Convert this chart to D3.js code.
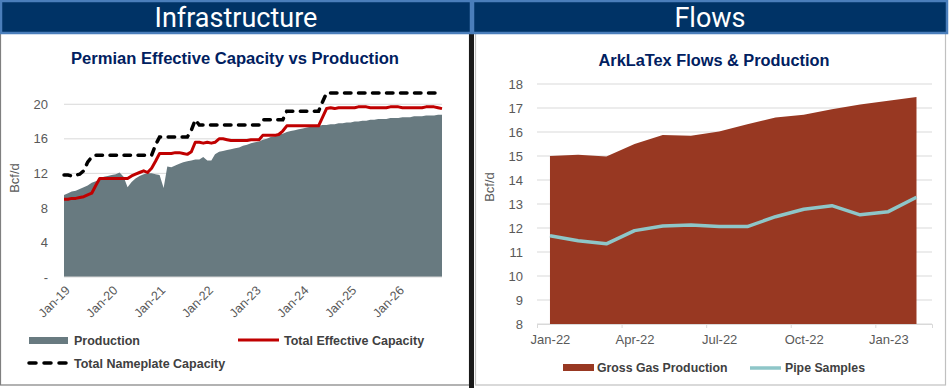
<!DOCTYPE html>
<html>
<head>
<meta charset="UTF-8">
<style>
  body { margin: 0; background: #fff; }
  svg { display: block; font-family: "Liberation Sans", Arial, sans-serif; }
  .tick text { fill: #595959; }
</style>
</head>
<body>
<svg width="949" height="388"></svg>
<script src="https://cdnjs.cloudflare.com/ajax/libs/d3/7.8.5/d3.min.js"></script>
<script>

// ---- Permian data (monthly, Jan-19 .. Dec-26), Bcf/d
const permianStart = new Date(2019, 0, 1);
const production = [
  9.5, 9.7, 9.9, 10.0, 10.2, 10.4, 10.6, 10.9, 11.1, 11.3, 11.6, 11.7,
  11.8, 11.9, 12.1, 11.6, 10.4, 11.0, 11.4, 11.7, 11.9, 12.0, 12.0, 11.9,
  11.8, 10.3, 12.8, 12.7, 12.9, 13.1, 13.3, 13.4, 13.5, 13.6, 13.6, 13.9,
  13.5, 13.5, 14.2, 14.5, 14.6, 14.7, 14.8, 14.9, 15.0, 15.2, 15.3, 15.5,
  15.6, 15.7, 15.9, 16.0, 16.2, 16.3, 16.5, 16.6, 16.8, 16.9, 17.0, 17.1,
  17.2, 17.3, 17.4, 17.4, 17.5, 17.6, 17.6, 17.7, 17.7, 17.8, 17.8, 17.9,
  17.9, 18.0, 18.0, 18.1, 18.1, 18.2, 18.2, 18.3, 18.3, 18.3, 18.4, 18.4,
  18.4, 18.5, 18.5, 18.5, 18.6, 18.6, 18.6, 18.7, 18.7, 18.7, 18.8, 18.8
];
const effectiveCap = [
  9.0, 9.0, 9.1, 9.1, 9.2, 9.3, 9.5, 9.7, 10.6, 11.4, 11.4, 11.4,
  11.4, 11.4, 11.4, 11.4, 11.4, 11.7, 11.9, 12.1, 12.3, 12.1, 12.6, 13.4,
  14.3, 14.3, 14.3, 14.3, 14.4, 14.4, 14.3, 14.2, 14.5, 15.6, 15.6, 15.5,
  15.6, 15.5, 15.6, 16.0, 16.0, 15.9, 15.8, 15.8, 15.8, 15.8, 15.8, 15.9,
  15.9, 15.9, 16.4, 16.4, 16.4, 16.4, 16.5, 16.9, 17.5, 17.5, 17.5, 17.5,
  17.5, 17.5, 17.5, 17.5, 17.5, 18.5, 19.5, 19.6, 19.5, 19.6, 19.6, 19.6,
  19.6, 19.6, 19.7, 19.7, 19.7, 19.6, 19.6, 19.6, 19.6, 19.6, 19.7, 19.7,
  19.7, 19.6, 19.6, 19.6, 19.6, 19.6, 19.6, 19.7, 19.7, 19.7, 19.6, 19.5
];
const nameplateCap = [
  11.8, 11.8, 11.7, 11.8, 11.9, 12.3, 13.3, 13.9, 14.1, 14.1, 14.1, 14.1,
  14.1, 14.1, 14.1, 14.1, 14.1, 14.1, 14.1, 14.1, 14.1, 14.1, 14.1, 15.3,
  16.2, 16.2, 16.2, 16.2, 16.2, 16.2, 16.2, 16.2, 17.0, 18.2, 17.6, 17.6,
  17.6, 17.6, 17.6, 17.6, 17.6, 17.6, 17.6, 17.6, 17.6, 17.6, 17.6, 17.6,
  17.6, 17.6, 18.2, 18.2, 18.2, 18.2, 18.2, 18.2, 19.2, 19.2, 19.2, 19.2,
  19.2, 19.2, 19.2, 19.2, 19.2, 20.3, 21.3, 21.3, 21.3, 21.3, 21.3, 21.3,
  21.3, 21.3, 21.3, 21.3, 21.3, 21.3, 21.3, 21.3, 21.3, 21.3, 21.3, 21.3,
  21.3, 21.3, 21.3, 21.3, 21.3, 21.3, 21.3, 21.3, 21.3, 21.3, 21.3, 21.3
];
const permianTicks = [0, 4, 8, 12, 16, 20];

// ---- ArkLaTex data (monthly, Jan-22 .. Feb-23), Bcf/d
const arkMonths = ["Jan-22","Feb-22","Mar-22","Apr-22","May-22","Jun-22","Jul-22",
                   "Aug-22","Sep-22","Oct-22","Nov-22","Dec-22","Jan-23","Feb-23"];
const grossProduction = [15.0, 15.05, 14.98, 15.5, 15.88, 15.84, 16.02, 16.32, 16.6, 16.72, 16.95, 17.15, 17.3, 17.46];
const pipeSamples = [11.68, 11.47, 11.34, 11.89, 12.08, 12.12, 12.06, 12.06, 12.47, 12.78, 12.93, 12.55, 12.68, 13.28];
const arkLabelIdx = [0, 3, 6, 9, 12];
const arkTicks = [8, 9, 10, 11, 12, 13, 14, 15, 16, 17, 18];

const svg = d3.select("svg");
const navy = "#003366", headBorder = "#4a7ebb";
const grid = "#d9d9d9", axisText = "#595959", legendText = "#404040";

// ---- panels & headers
svg.append("rect").attr("x", 0.5).attr("y", 33).attr("width", 469).attr("height", 352)
  .attr("fill", "#fff").attr("stroke", "#7f7f7f").attr("stroke-width", 1.2);
svg.append("rect").attr("x", 475.5).attr("y", 33).attr("width", 470).attr("height", 352)
  .attr("fill", "#fff").attr("stroke", "#c0c0c0").attr("stroke-width", 1.2);
svg.append("rect").attr("x", 469).attr("y", 33).attr("width", 5).attr("height", 355).attr("fill", "#1a1a1a");

[["Infrastructure", 1, 470], ["Flows", 473, 474]].forEach(([t, x, w]) => {
  svg.append("rect").attr("x", x).attr("y", 1).attr("width", w).attr("height", 32)
    .attr("fill", navy).attr("stroke", headBorder).attr("stroke-width", 2.5);
  svg.append("text").attr("x", x + w / 2).attr("y", 27).attr("text-anchor", "middle")
    .attr("fill", "#fff").attr("font-family", "Roboto, sans-serif").attr("font-size", 27)
    .text(t);
});

// ================= Left chart =================
const L = svg.append("g");
const lx = d3.scaleTime().domain([permianStart, new Date(2026, 11, 1)]).range([64, 442]);
const ly = d3.scaleLinear().domain([0, 22]).range([277, 87]);
const pDates = production.map((_, i) => new Date(2019, i, 1));

L.append("text").attr("x", 235).attr("y", 64).attr("text-anchor", "middle")
  .attr("fill", "#002060").attr("font-weight", "bold").attr("font-size", 16)
  .attr("textLength", 328).attr("lengthAdjust", "spacingAndGlyphs")
  .text("Permian Effective Capacity vs Production");

L.append("g").selectAll("line").data(permianTicks.slice(1)).join("line")
  .attr("x1", 64).attr("x2", 442).attr("y1", d => ly(d)).attr("y2", d => ly(d))
  .attr("stroke", grid);

L.append("path").datum(production)
  .attr("fill", "#687a80")
  .attr("d", d3.area().x((d, i) => lx(pDates[i])).y0(ly(0)).y1(d => ly(d)));

const yAxL = L.append("g").attr("transform", "translate(56,0)")
  .call(d3.axisLeft(ly).tickValues(permianTicks).tickSize(0).tickPadding(8)
    .tickFormat(d => d === 0 ? "-" : d));
yAxL.select(".domain").remove();
yAxL.selectAll("text").attr("font-size", 13).attr("fill", axisText);

L.append("line").attr("x1", 64).attr("x2", 442).attr("y1", 277).attr("y2", 277).attr("stroke", grid);

const xAxL = L.append("g").attr("transform", "translate(0,277)")
  .call(d3.axisBottom(lx).ticks(d3.timeYear.every(1)).tickFormat(d3.timeFormat("%b-%y")).tickSize(0));
xAxL.select(".domain").remove();
xAxL.selectAll("text").attr("font-size", 12.5).attr("fill", axisText)
  .attr("text-anchor", "end").attr("dy", 0)
  .attr("transform", "translate(4,12) rotate(-45)");

L.append("path").datum(effectiveCap)
  .attr("fill", "none").attr("stroke", "#c00000").attr("stroke-width", 3).attr("stroke-linejoin", "round")
  .attr("d", d3.line().x((d, i) => lx(pDates[i])).y(d => ly(d)));
L.append("path").datum(nameplateCap)
  .attr("fill", "none").attr("stroke", "#000").attr("stroke-width", 3.5)
  .attr("stroke-linecap", "round").attr("stroke-dasharray", "6.5,7.5")
  .attr("d", d3.line().x((d, i) => lx(pDates[i])).y(d => ly(d)));

L.append("text").attr("transform", "translate(19,178) rotate(-90)").attr("text-anchor", "middle")
  .attr("font-size", 13).attr("fill", axisText).text("Bcf/d");

// legend
const lg = L.append("g").attr("font-size", 12.5).attr("font-weight", "bold").attr("fill", legendText);
lg.append("rect").attr("x", 29).attr("y", 337).attr("width", 39).attr("height", 7).attr("fill", "#687a80");
lg.append("text").attr("x", 74).attr("y", 345).text("Production");
lg.append("line").attr("x1", 238).attr("x2", 279).attr("y1", 340).attr("y2", 340)
  .attr("stroke", "#c00000").attr("stroke-width", 3);
lg.append("text").attr("x", 284).attr("y", 345).text("Total Effective Capacity");
lg.append("line").attr("x1", 29).attr("x2", 66).attr("y1", 363).attr("y2", 363)
  .attr("stroke", "#000").attr("stroke-width", 3.5).attr("stroke-linecap", "round").attr("stroke-dasharray", "7,8");
lg.append("text").attr("x", 74).attr("y", 368).text("Total Nameplate Capacity");

// ================= Right chart =================
const R = svg.append("g");
const rx = d3.scaleLinear().domain([-0.46, 13.55]).range([537, 932]);
const ry = d3.scaleLinear().domain([8, 18]).range([324, 84]);

R.append("text").attr("x", 714).attr("y", 66).attr("text-anchor", "middle")
  .attr("fill", "#002060").attr("font-weight", "bold").attr("font-size", 16)
  .attr("textLength", 231).attr("lengthAdjust", "spacingAndGlyphs")
  .text("ArkLaTex Flows & Production");

R.append("g").selectAll("line").data(arkTicks).join("line")
  .attr("x1", 537).attr("x2", 932).attr("y1", d => ry(d)).attr("y2", d => ry(d))
  .attr("stroke", grid);

R.append("path").datum(grossProduction)
  .attr("fill", "#983822")
  .attr("d", d3.area().x((d, i) => rx(i)).y0(ry(8)).y1(d => ry(d)));

R.append("path").datum(pipeSamples)
  .attr("fill", "none").attr("stroke", "#8ec6c8").attr("stroke-width", 3.5).attr("stroke-linejoin", "round")
  .attr("d", d3.line().x((d, i) => rx(i)).y(d => ry(d)));

const yAxR = R.append("g").attr("transform", "translate(531,0)")
  .call(d3.axisLeft(ry).tickValues(arkTicks).tickSize(0).tickPadding(8));
yAxR.select(".domain").remove();
yAxR.selectAll("text").attr("font-size", 13).attr("fill", axisText);

// tick marks sit half a month before the labelled month
const tickAx = R.append("g").attr("transform", "translate(0,324)")
  .call(d3.axisBottom(rx).tickValues(arkLabelIdx.map(i => i - 0.46)).tickSize(4).tickFormat(""));
tickAx.selectAll("line, .domain").attr("stroke", grid);
const xAxR = R.append("g").attr("transform", "translate(0,324)")
  .call(d3.axisBottom(rx).tickValues(arkLabelIdx).tickSize(0).tickPadding(11).tickFormat(i => arkMonths[i]));
xAxR.select(".domain").remove();
xAxR.selectAll("text").attr("font-size", 13).attr("fill", axisText);

R.append("text").attr("transform", "translate(494,187) rotate(-90)").attr("text-anchor", "middle")
  .attr("font-size", 13).attr("fill", axisText).text("Bcf/d");

const rg = R.append("g").attr("font-size", 12.3).attr("font-weight", "bold").attr("fill", legendText);
rg.append("rect").attr("x", 563).attr("y", 364).attr("width", 31).attr("height", 7).attr("fill", "#983822");
rg.append("text").attr("x", 597).attr("y", 372).text("Gross Gas Production");
rg.append("line").attr("x1", 750).attr("x2", 781).attr("y1", 368).attr("y2", 368)
  .attr("stroke", "#8ec6c8").attr("stroke-width", 3.5);
rg.append("text").attr("x", 785).attr("y", 372).text("Pipe Samples");

</script>
</body>
</html>
